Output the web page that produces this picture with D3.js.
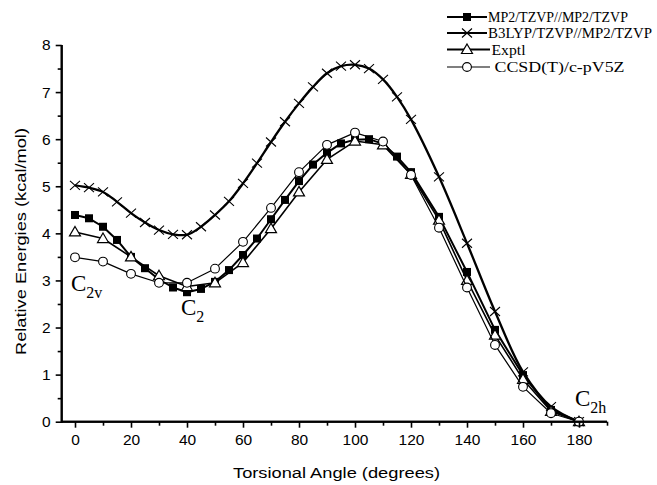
<!DOCTYPE html>
<html><head><meta charset="utf-8">
<script src="https://cdn.jsdelivr.net/npm/d3@7"></script>
<style>body{margin:0;background:#fff}svg{display:block}</style>
</head><body>
<svg id="chart" width="657" height="485"></svg>
<script>
// ---- data ----
const anglesFine = [0,5,10,15,20,25,30,35,40,45,50,55,60,65,70,75,80,85,90,95,100,105,110,115,120,130,140,150,160,170,180];
const anglesCoarse = [0,10,20,30,40,50,60,70,80,90,100,110,120,130,140,150,160,170,180];
const mp2 = [4.39,4.32,4.14,3.86,3.50,3.26,3.02,2.85,2.75,2.82,2.97,3.22,3.54,3.89,4.30,4.71,5.11,5.46,5.71,5.91,5.99,6.00,5.90,5.63,5.30,4.35,3.18,1.95,0.99,0.25,0.00];
const b3lyp = [5.02,4.97,4.88,4.67,4.43,4.23,4.07,3.98,3.97,4.14,4.39,4.68,5.06,5.49,5.94,6.37,6.76,7.11,7.40,7.55,7.58,7.50,7.27,6.90,6.42,5.20,3.79,2.34,1.06,0.32,0.00];
const exptl = [4.03,3.89,3.50,3.10,2.87,2.95,3.38,4.10,4.88,5.57,5.96,5.88,5.25,4.28,3.00,1.84,0.90,0.22,0.00];
const ccsd = [3.49,3.40,3.14,2.95,2.95,3.25,3.82,4.54,5.30,5.88,6.14,5.95,5.24,4.12,2.85,1.63,0.74,0.18,0.00];
const seriesNames = ["MP2/TZVP//MP2/TZVP","B3LYP/TZVP//MP2/TZVP","Exptl","CCSD(T)/c-pV5Z"];
const xMajorTicks = [0,20,40,60,80,100,120,140,160,180];
const xMinorTicks = [10,30,50,70,90,110,130,150,170,190];
const yMajorTicks = [0,1,2,3,4,5,6,7,8];
const yMinorTicks = [0.5,1.5,2.5,3.5,4.5,5.5,6.5,7.5];
const xTitle = "Torsional Angle (degrees)";
const yTitle = "Relative Energies (kcal/mol)";

// ---- chart ----
const svg = d3.select("#chart");
svg.append("rect").attr("width",657).attr("height",485).attr("fill","#fff");
const x = d3.scaleLinear().domain([-5,190]).range([61,607]);
const y = d3.scaleLinear().domain([0,8]).range([421.7,45]);

const series = [
  {name:seriesNames[0], xs:anglesFine, ys:mp2, marker:"square", width:2, curve:d3.curveLinear},
  {name:seriesNames[1], xs:anglesFine, ys:b3lyp, marker:"x", width:2.3, curve:d3.curveCatmullRom},
  {name:seriesNames[2], xs:anglesCoarse, ys:exptl, marker:"triangle", width:1.6, curve:d3.curveLinear},
  {name:seriesNames[3], xs:anglesCoarse, ys:ccsd, marker:"circle", width:1.2, curve:d3.curveLinear}
];

function drawMarker(g, type, cx, cy){
  if(type==="square"){
    g.append("rect").attr("x",cx-4).attr("y",cy-4).attr("width",8).attr("height",8).attr("fill","#000");
  } else if(type==="x"){
    g.append("path").attr("d",`M${cx-5},${cy-4.5}L${cx+5},${cy+4.5}M${cx-5},${cy+4.5}L${cx+5},${cy-4.5}`)
      .attr("stroke","#000").attr("stroke-width",1.1).attr("fill","none");
  } else if(type==="triangle"){
    g.append("path").attr("d",`M${cx},${cy-5.5}L${cx+5.5},${cy+4}L${cx-5.5},${cy+4}Z`)
      .attr("stroke","#000").attr("stroke-width",1.2).attr("fill","#fff");
  } else {
    g.append("circle").attr("cx",cx).attr("cy",cy).attr("r",4.4)
      .attr("stroke","#000").attr("stroke-width",1.1).attr("fill","#fff");
  }
}

series.forEach(s=>{
  const pts = s.xs.map((a,i)=>[a,s.ys[i]]);
  const line = d3.line().x(d=>x(d[0])).y(d=>y(d[1])).curve(s.curve);
  const g = svg.append("g");
  g.append("path").attr("d",line(pts)).attr("fill","none").attr("stroke","#000")
    .attr("stroke-width",s.width).attr("stroke-linejoin","round");
  pts.forEach(d=>drawMarker(g,s.marker,x(d[0]),y(d[1])));
});

// axes
const axisG = svg.append("g");
const xAxis = d3.axisBottom(x).tickValues(xMajorTicks).tickSize(6).tickPadding(6).tickFormat(d3.format("d"));
const xa = axisG.append("g").attr("transform",`translate(0,${y(0)})`).call(xAxis);
const xAxisMinor = d3.axisBottom(x).tickValues(xMinorTicks).tickSize(4).tickFormat("");
const xm = axisG.append("g").attr("transform",`translate(0,${y(0)})`).call(xAxisMinor);
const yAxis = d3.axisLeft(y).tickValues(yMajorTicks).tickSize(6).tickPadding(5).tickFormat(d3.format("d"));
const ya = axisG.append("g").attr("transform",`translate(61.7,0)`).call(yAxis);
const yAxisMinor = d3.axisLeft(y).tickValues(yMinorTicks).tickSize(4).tickFormat("");
const ym = axisG.append("g").attr("transform",`translate(61.7,0)`).call(yAxisMinor);
[xa,xm,ya,ym].forEach(a=>{
  a.select(".domain").attr("stroke","#000").attr("stroke-width",2);
  a.selectAll(".tick line").attr("stroke","#000").attr("stroke-width",1.6);
  a.selectAll("text").attr("font-family","'Liberation Sans', Arial, sans-serif").attr("font-size",15.5).attr("fill","#000");
});
xm.select(".domain").attr("d",`M${x(-5)},0H${x(190)}`);
xa.select(".domain").attr("d",`M${x(-5)},0H${x(190)}`);
ya.select(".domain").attr("d",`M0,${y(0)+1}V${y(8)}`);
ym.select(".domain").attr("d",`M0,${y(0)+1}V${y(8)}`);

// axis titles
svg.append("text").attr("x",336.5).attr("y",478).attr("text-anchor","middle")
  .attr("font-family","'Liberation Sans', Arial, sans-serif").attr("font-size",15.5)
  .attr("textLength",207).attr("lengthAdjust","spacingAndGlyphs").text(xTitle);
svg.append("text").attr("transform","translate(26,241.5) rotate(-90)").attr("text-anchor","middle")
  .attr("font-family","'Liberation Sans', Arial, sans-serif").attr("font-size",15.5)
  .attr("textLength",227).attr("lengthAdjust","spacingAndGlyphs").text(yTitle);

// legend
const legRows = [
  {yy:17, tx:488, tl:140},
  {yy:33, tx:488, tl:164},
  {yy:49.5, tx:491.5, tl:34},
  {yy:67, tx:494.5, tl:130}
];
series.forEach((s,i)=>{
  const r = legRows[i];
  const g = svg.append("g");
  g.append("line").attr("x1",447).attr("x2",i<2?487:490).attr("y1",r.yy).attr("y2",r.yy)
    .attr("stroke","#000").attr("stroke-width",i<3?2:1.2);
  drawMarker(g,s.marker,467,r.yy);
  g.append("text").attr("x",r.tx).attr("y",r.yy+5)
    .attr("font-family","'Liberation Serif', 'Times New Roman', serif").attr("font-size",14)
    .attr("textLength",r.tl).attr("lengthAdjust","spacingAndGlyphs").text(s.name);
});

// symmetry annotations
const ann = [
  {x:71, y:291, main:"C", sub:"2v"},
  {x:181, y:315, main:"C", sub:"2"},
  {x:575, y:406, main:"C", sub:"2h"}
];
ann.forEach(a=>{
  const t = svg.append("text").attr("x",a.x).attr("y",a.y)
    .attr("font-family","'Liberation Serif', 'Times New Roman', serif").attr("font-size",23);
  t.append("tspan").text(a.main);
  t.append("tspan").attr("dy",7).attr("font-size",16).text(a.sub);
});
</script>
</body></html>
